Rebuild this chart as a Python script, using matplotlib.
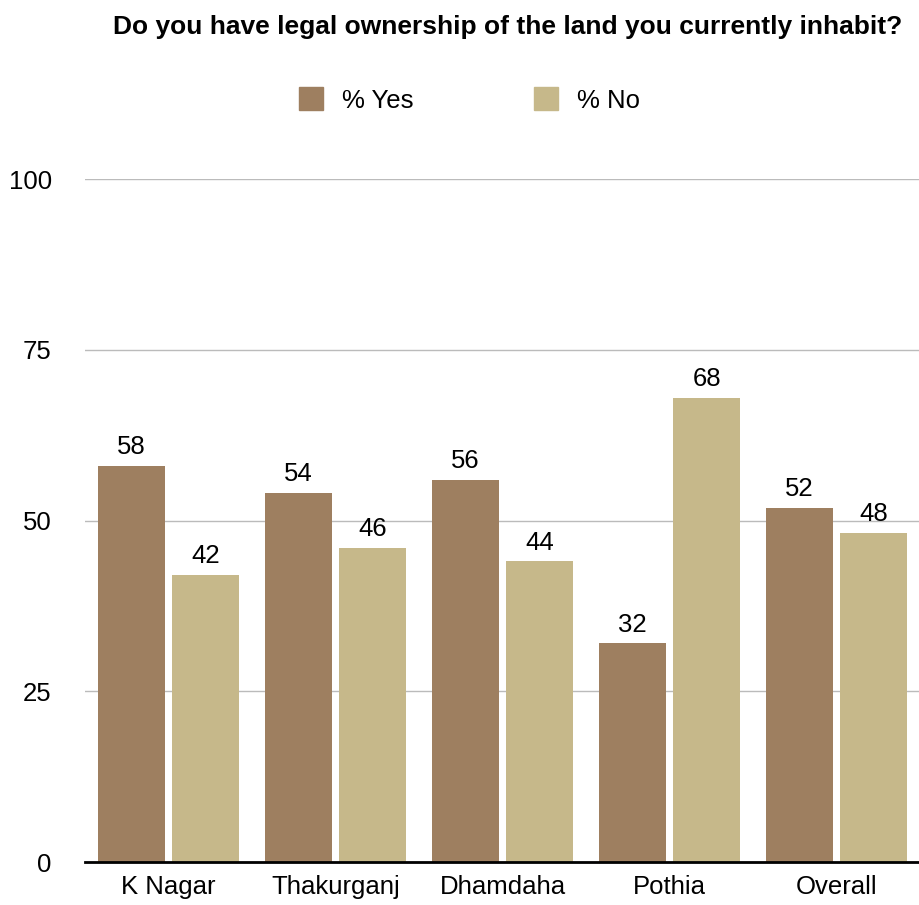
import numpy as np
import matplotlib.pyplot as plt
from matplotlib.patches import Patch

plt.rcParams['font.family'] = ['Liberation Sans', 'DejaVu Sans']

# data
places = ['K Nagar', 'Thakurganj', 'Dhamdaha', 'Pothia', 'Overall']
yes_pct = [58, 54, 56, 32, 51.8]
no_pct = [42, 46, 44, 68, 48.2]
yes_labels = ['58', '54', '56', '32', '52']
no_labels = ['42', '46', '44', '68', '48']
yticks = [0, 25, 50, 75, 100]

c_yes = '#9E7F60'
c_no = '#C6B88A'
fs = 18.5

fig = plt.figure(figsize=(9.2, 9.05), dpi=100)
ax = fig.add_axes([0.0924, 0.0475, 0.9076, 0.7547])

x = np.arange(len(places))
w = 0.40
off = 0.222
b1 = ax.bar(x - off, yes_pct, w, color=c_yes, zorder=3)
b2 = ax.bar(x + off, no_pct, w, color=c_no, zorder=3)

for bars, labs in [(b1, yes_labels), (b2, no_labels)]:
    for r, t in zip(bars, labs):
        ax.text(r.get_x() + r.get_width() / 2, r.get_height() + 1.0, t,
                ha='center', va='bottom', fontsize=fs, zorder=4)

ax.set_xlim(-0.5, 4.5)
ax.set_ylim(0, 100)
ax.set_yticks(yticks)
ax.set_yticklabels([str(v) for v in yticks], fontsize=fs)
ax.set_xticks(x)
ax.set_xticklabels(places, fontsize=fs)
ax.tick_params(axis='both', length=0)
ax.tick_params(axis='y', pad=24)
ax.tick_params(axis='x', pad=9)
ax.yaxis.grid(True, color='#BBBBBB', linewidth=1, zorder=0)
for s in ['top', 'right', 'left']:
    ax.spines[s].set_visible(False)
ax.spines['bottom'].set_linewidth(2)
ax.spines['bottom'].set_zorder(5)

fig.text(0.5516, 0.970, 'Do you have legal ownership of the land you currently inhabit?',
         ha='center', va='center', fontsize=19, fontweight='bold')

handles = [Patch(color=c_yes, label='% Yes'), Patch(color=c_no, label='% No')]
fig.legend(handles=handles, loc='center', bbox_to_anchor=(0.510, 0.8895), ncol=2,
           frameon=False, fontsize=fs, handlelength=0.95, handleheight=1.0,
           handletextpad=0.72, columnspacing=4.7)

fig.savefig('out.png', dpi=100)
